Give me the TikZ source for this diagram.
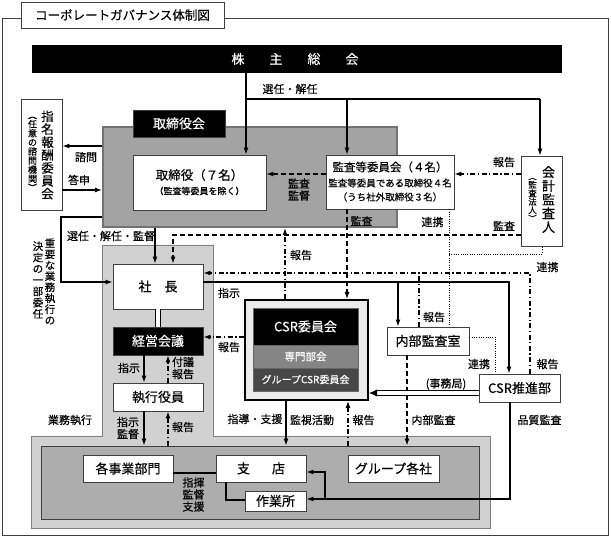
\documentclass[tikz,border=0pt]{standalone}
\usepackage{fontspec}
\setmainfont{Noto Sans CJK JP}[FakeBold=0.35]
\usetikzlibrary{arrows.meta}
\newcommand{\myfs}[2]{\fontsize{#1}{#2}\selectfont}
\tikzset{
  wbox/.style={draw=black!75, fill=white, line width=0.9pt, inner sep=0pt},
  bbox/.style={draw=black!75, fill=black, text=white, line width=0.9pt, inner sep=0pt},
  txt/.style={inner sep=0pt, font=\myfs{13}{13}},
  lbl/.style={inner sep=0pt, font=\myfs{11}{12}, align=center},
  vtxt/.style={inner sep=0pt, align=center},
  conn/.style={line width=1.1pt, draw=black},
  arr/.style={-{Latex[length=7pt,width=5pt]}},
  dsh/.style={dash pattern=on 5pt off 3pt},
  ddot/.style={dash pattern=on 5pt off 2.5pt on 1.3pt off 2.5pt},
  dtt/.style={dash pattern=on 1pt off 1.3pt, line width=0.9pt},
  dbl/.style={double=white, double distance=3.5pt, line width=0.8pt, draw=black},
}
\begin{document}
\begin{tikzpicture}[x=1pt,y=-1pt]
\useasboundingbox (0,0) rectangle (611,537);
% outer frame and title
\draw[black!75, line width=0.9pt] (2,18) rectangle (608,535);
\node[wbox, minimum width=203pt, minimum height=26pt, font=\myfs{12.5}{13}] (title) at (122.5,15) {コーポレートガバナンス体制図};

% shareholders
\node[fill=black, minimum width=530pt, minimum height=28pt, inner sep=0pt] (sh) at (297,59) {};
\node[txt, text=white] (shT) at (295,59) {株\hspace{25pt}主\hspace{25pt}総\hspace{25pt}会};

% board area
\node[draw=black!55, fill=black!36, line width=2.2pt, minimum width=294pt, minimum height=100pt, inner sep=0pt] (board) at (250,177) {};
\node[bbox, minimum width=92pt, minimum height=27pt, font=\myfs{13}{13}] (boardL) at (179,123.5) {取締役会};
\node[wbox, minimum width=133pt, minimum height=55pt] (dir) at (199.5,182.5) {};
\node[txt, font=\myfs{12.5}{12.5}] (dirA) at (199.5,175) {取締役（７名）};
\node[txt, font=\myfs{9}{9}] (dirB) at (199.5,191) {（監査等委員を除く）};
\node[wbox, minimum width=128pt, minimum height=54pt] (aud) at (390,182) {};
\node[txt, font=\myfs{11.5}{11.5}] (audA) at (390,167) {監査等委員会（４名）};
\node[txt, font=\myfs{9.5}{9.5}] (audB) at (390,183) {監査等委員である取締役４名};
\node[txt, font=\myfs{9.5}{9.5}] (audC) at (390,197) {（うち社外取締役３名）};

% nomination committee
\node[wbox, minimum width=41pt, minimum height=111pt] (nom) at (41.5,154.5) {};
\node[vtxt, font=\myfs{12.5}{12.9}] (nomA) at (47.5,155) {指\\名\\報\\酬\\委\\員\\会};
\node[vtxt, font=\myfs{9}{9.1}] (nomB) at (32.5,154) {︵\\任\\意\\の\\諮\\問\\機\\関\\︶};

% accounting auditor
\node[wbox, minimum width=41pt, minimum height=90pt] (acc) at (541.5,201) {};
\node[vtxt, font=\myfs{13}{13.75}] (accA) at (548.5,199.5) {会\\計\\監\\査\\人};
\node[vtxt, font=\myfs{8.5}{8.5}] (accB) at (532.5,200) {︵\\監\\査\\法\\人\\︶};

% execution region
\draw[fill=black!18, draw=black!50, line width=0.9pt] (102,245) -- (213,245) -- (213,436) -- (490,436) -- (490,528) -- (31,528) -- (31,436) -- (102,436) -- cycle;
\node[draw=black!75, fill=black!32, line width=0.9pt, minimum width=438pt, minimum height=73pt, inner sep=0pt] (ops) at (260,482.5) {};

\node[wbox, txt, minimum width=90pt, minimum height=45pt] (pres) at (158,286.5) {社　長};
\node[bbox, txt, text=white, minimum width=90pt, minimum height=28pt] (mgmt) at (158,341) {経営会議};
\node[wbox, txt, minimum width=90pt, minimum height=28pt] (off) at (158,397) {執行役員};

\node[wbox, txt, minimum width=90pt, minimum height=27pt] (div) at (128,468.5) {各事業部門};
\node[wbox, txt, minimum width=90pt, minimum height=27pt] (branch) at (261,468.5) {支\hspace{22pt}店};
\node[wbox, txt, minimum width=61pt, minimum height=20pt] (site) at (275.5,501) {作業所};
\node[wbox, txt, minimum width=91pt, minimum height=27pt] (group) at (393.5,468.5) {グループ各社};

% CSR committee
\node[draw=black, fill=black!8, line width=2pt, minimum width=123pt, minimum height=100pt, inner sep=0pt] (csr) at (306.5,350) {};
\node[fill=black, draw=black!60, line width=0.6pt, text=white, minimum width=105pt, minimum height=37pt, inner sep=0pt, font=\myfs{13}{13}] (csrA) at (305.5,326.5) {CSR委員会};
\node[fill=black!48, draw=black!60, line width=0.6pt, text=white, minimum width=105pt, minimum height=23pt, inner sep=0pt, font=\myfs{10.5}{10.5}] (csrB) at (305.5,356.5) {専門部会};
\node[fill=black!72, draw=black!60, line width=0.6pt, text=white, minimum width=105pt, minimum height=23pt, inner sep=0pt, font=\myfs{10}{10}] (csrC) at (305.5,379.5) {グループCSR委員会};

\node[wbox, txt, minimum width=82pt, minimum height=28pt] (ia) at (428,341) {内部監査室};
\node[wbox, txt, minimum width=81pt, minimum height=28pt] (csrd) at (519.5,388) {CSR推進部};

% ---------- connectors ----------
\coordinate (jA) at (246,99);
\coordinate (jB) at (347,99);
\coordinate (jC) at (540,99);
\draw[conn] (jA |- sh.south) -- (jA) -- (jC);
\draw[conn,arr] (jA) -- (jA |- dir.north);
\draw[conn,arr] (jB) -- (jB |- aud.north);
\draw[conn,arr] (jC) -- (jC |- acc.north);

\coordinate (yA) at (0,174);
\draw[conn,dsh,arr] (aud.west |- yA) -- (dir.east |- yA);
\draw[conn,ddot,arr] (acc.west |- yA) -- (aud.east |- yA);

\coordinate (kD) at (173,235);
\draw[conn,dsh,arr] (acc.west |- kD) -- (kD) -- (kD |- pres.north);

\draw[conn,dsh,arr] (jB |- aud.south) -- (jB |- csr.north);

\coordinate (xR) at (285,0);
\draw[conn,ddot,arr] (xR |- csr.north) -- (xR |- board.south);

\coordinate (kE) at (449,254);
\coordinate (kF) at (542,254);
\draw[dtt] (kE |- aud.south) -- (kE |- ia.north);
\draw[dtt] (kE) -- (kF) -- (kF |- acc.south);

\coordinate (yQ) at (0,146);
\coordinate (yR) at (0,190);
\draw[conn,arr] (board.west |- yQ) -- (nom.east |- yQ);
\draw[conn,arr] (nom.east |- yR) -- (board.west |- yR);

\coordinate (kG) at (61,217);
\coordinate (kH) at (61,282);
\draw[conn,arr] (board.west |- kG) -- (kG) -- (kH) -- (pres.west |- kH);

\coordinate (xS) at (155,0);
\draw[conn,arr] (xS |- board.south) -- (xS |- pres.north);

\coordinate (kI) at (509,282);
\coordinate (kJ) at (398,282);
\draw[conn,arr] (pres.east |- kI) -- (kI) -- (kI |- csrd.north);
\draw[conn,arr] (kJ) -- (kJ |- ia.north);

\coordinate (kK) at (530,273);
\coordinate (kL) at (419,273);
\draw[conn,ddot,arr] (kK |- csrd.north) -- (kK) -- (pres.east |- kK);
\draw[conn,ddot] (kL |- ia.north) -- (kL);

\draw[dbl] (pres.south) -- (mgmt.north);

\coordinate (yM) at (0,337);
\draw[conn,ddot,arr] (csr.west |- yM) -- (mgmt.east |- yM);

\coordinate (xT) at (144,0);
\coordinate (xU) at (168,0);
\draw[conn,arr] (xT |- mgmt.south) -- (xT |- off.north);
\draw[conn,ddot,arr] (xU |- off.north) -- (xU |- mgmt.south);
\draw[conn,arr] (xT |- off.south) -- (xT |- ops.north);
\draw[conn,ddot,arr] (xU |- ops.north) -- (xU |- off.south);

\coordinate (xV) at (286,0);
\coordinate (xW) at (348,0);
\draw[conn,arr] (xV |- csr.south) -- (xV |- ops.north);
\draw[conn,ddot,arr] (xW |- ops.north) -- (xW |- csr.south);

\coordinate (xX) at (407,0);
\draw[conn,dsh,arr] (xX |- ia.south) -- (xX |- ops.north);

\coordinate (yN) at (0,393);
\draw[dbl,-{Latex[length=8pt,width=7pt]}] (csrd.west |- yN) -- (csr.east |- yN);

\coordinate (kM) at (495,337);
\draw[dtt] (ia.east |- kM) -- (kM) -- (kM |- csrd.north);

\coordinate (kN) at (510,499);
\coordinate (kO) at (325,499);
\coordinate (kP) at (325,472);
\draw[conn,arr] (kN |- csrd.south) -- (kN) -- (site.east |- kN);
\draw[conn,arr] (kO) -- (kP) -- (branch.east |- kP);

\coordinate (yD) at (0,473);
\draw[conn] (div.east |- yD) -- (branch.west |- yD);
\coordinate (kQ) at (226,500);
\draw[conn] (kQ |- branch.south) -- (kQ) -- (site.west |- kQ);

% ---------- labels ----------
\node[lbl] (l1) at (290,89) {選任・解任};
\node[lbl] (l2) at (86,157) {諮問};
\node[lbl] (l3) at (79,180) {答申};
\node[lbl] (l4) at (299,189.5) {監査\\監督};
\node[lbl] (l5) at (361.5,221) {監査};
\node[lbl] (l6) at (432.5,222) {連携};
\node[lbl] (l7) at (504,162) {報告};
\node[lbl] (l8) at (504,226) {監査};
\node[lbl] (l9) at (111,236) {選任・解任・監督};
\node[lbl] (l10) at (301,255) {報告};
\node[lbl] (l11) at (229,293) {指示};
\node[lbl] (l12) at (229,347) {報告};
\node[lbl] (l13) at (129,368) {指示};
\node[lbl] (l14) at (183,368) {付議\\報告};
\node[lbl] (l15) at (70,420) {業務執行};
\node[lbl] (l16) at (128,428) {指示\\監督};
\node[lbl] (l17) at (183,427) {報告};
\node[lbl] (l18) at (255,419) {指導・支援};
\node[lbl] (l19) at (312,420) {監視活動};
\node[lbl] (l20) at (363.5,420) {報告};
\node[lbl] (l21) at (433.5,420) {内部監査};
\node[lbl] (l22) at (539.5,420) {品質監査};
\node[lbl] (l23) at (446,384) {(事務局)};
\node[lbl] (l24) at (479,364) {連携};
\node[lbl] (l25) at (547.5,364) {報告};
\node[lbl] (l26) at (434,317) {報告};
\node[lbl] (l27) at (547.5,267) {連携};
\node[lbl] (l28) at (193.5,494.5) {指揮\\監督\\支援};
\node[vtxt, font=\myfs{10.5}{11}] (l29) at (50,281.5) {重\\要\\な\\業\\務\\執\\行\\の};
\node[vtxt, font=\myfs{10.5}{11.3}] (l30) at (38,280) {決\\定\\の\\一\\部\\委\\任};
\end{tikzpicture}
\end{document}
